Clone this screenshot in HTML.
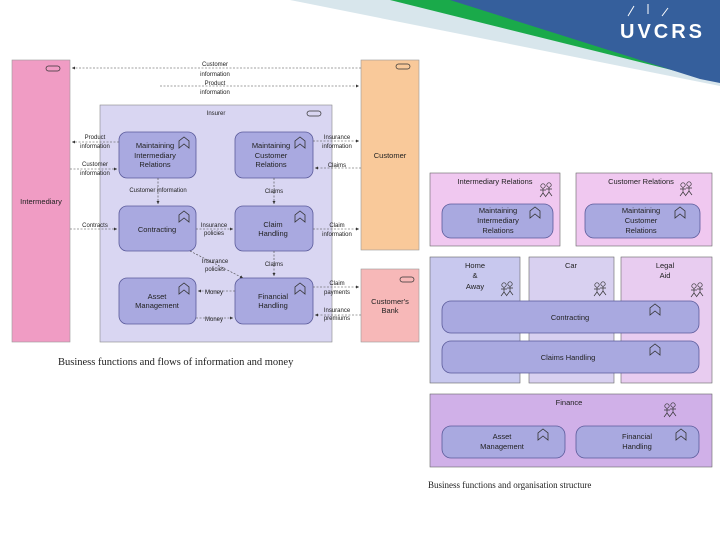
<!DOCTYPE html>
<html><head><style>
html,body{margin:0;padding:0;background:#fff;width:720px;height:540px;overflow:hidden}
svg text{font-family:"Liberation Sans",sans-serif;fill:#222}
.c{text-anchor:middle}
.s{font-size:6px}
.m{font-size:7.5px}
</style></head><body>
<svg width="720" height="540" viewBox="0 0 720 540" xmlns="http://www.w3.org/2000/svg">
<defs>
<marker id="a" markerWidth="6" markerHeight="6" refX="5" refY="3" orient="auto"><path d="M0,0.5 L5,3 L0,5.5z" fill="#333"/></marker>
<g id="fn"><path d="M-5,6 L-5,-1 L0,-5 L5,-1 L5,6 L0,2 Z" fill="none" stroke="#333" stroke-width="0.8"/></g>
<g id="ac" fill="none" stroke="#333" stroke-width="0.7"><circle cx="-3" cy="-6" r="2.2"/><circle cx="3" cy="-7" r="2.2"/><path d="M-3,-4 V1 M-6,-2 H0 M-6,5 L-3,1 L0,5 M3,-5 V0 M0,-3 H6 M0,4 L3,0 L6,4"/></g>
</defs>
<!-- banner -->
<polygon points="290,0 720,0 720,86" fill="#d8e6ec"/>
<polygon points="390,0 720,0 720,82" fill="#1aaa4a"/>
<polygon points="450,0 720,0 720,83 700,79" fill="#355f9c"/>
<path d="M628,16 L634,6 M648,14 L648,4 M662,16 L668,8" stroke="#fff" stroke-width="1"/>
<text x="620" y="38" style="font-size:20px;font-weight:bold;fill:#fff;letter-spacing:3px">UVCRS</text>

<!-- left diagram -->
<rect x="12" y="60" width="58" height="282" fill="#f09cc4" stroke="#999" stroke-width="0.6"/>
<rect x="46" y="66" width="14" height="5" rx="2.5" fill="none" stroke="#333" stroke-width="0.7"/>
<text x="41" y="204" class="m c">Intermediary</text>
<rect x="361" y="60" width="58" height="190" fill="#f9c99a" stroke="#999" stroke-width="0.6"/>
<rect x="396" y="64" width="14" height="5" rx="2.5" fill="none" stroke="#333" stroke-width="0.7"/>
<text x="390" y="158" class="m c">Customer</text>
<rect x="361" y="269" width="58" height="73" fill="#f7b8b8" stroke="#999" stroke-width="0.6"/>
<rect x="400" y="277" width="14" height="5" rx="2.5" fill="none" stroke="#333" stroke-width="0.7"/>
<text x="390" y="304" class="m c">Customer's</text><text x="390" y="313" class="m c">Bank</text>
<rect x="100" y="105" width="232" height="237" fill="#d9d6f2" stroke="#888" stroke-width="0.6"/>
<text x="216" y="115" class="s c">Insurer</text>
<rect x="307" y="111" width="14" height="5" rx="2.5" fill="none" stroke="#333" stroke-width="0.7"/>

<g fill="#a9a9e0" stroke="#5a5a9a" stroke-width="0.8">
<rect x="119" y="132" width="77" height="46" rx="8"/>
<rect x="235" y="132" width="78" height="46" rx="8"/>
<rect x="119" y="206" width="77" height="45" rx="8"/>
<rect x="235" y="206" width="78" height="45" rx="8"/>
<rect x="119" y="278" width="77" height="46" rx="8"/>
<rect x="235" y="278" width="78" height="46" rx="8"/>
</g>
<use href="#fn" x="184" y="142"/><use href="#fn" x="300" y="142"/>
<use href="#fn" x="184" y="216"/><use href="#fn" x="300" y="216"/>
<use href="#fn" x="184" y="288"/><use href="#fn" x="300" y="288"/>
<g class="m">
<text x="155" y="148" class="m c">Maintaining</text><text x="155" y="158" class="m c">Intermediary</text><text x="155" y="167" class="m c">Relations</text>
<text x="271" y="148" class="m c">Maintaining</text><text x="271" y="158" class="m c">Customer</text><text x="271" y="167" class="m c">Relations</text>
<text x="157" y="232" class="m c">Contracting</text>
<text x="273" y="227" class="m c">Claim</text><text x="273" y="236" class="m c">Handling</text>
<text x="157" y="299" class="m c">Asset</text><text x="157" y="308" class="m c">Management</text>
<text x="273" y="299" class="m c">Financial</text><text x="273" y="308" class="m c">Handling</text>
</g>
<g stroke="#444" stroke-width="0.6" stroke-dasharray="2,1.5" fill="none">
<line x1="361" y1="68" x2="72" y2="68" marker-end="url(#a)"/>
<line x1="160" y1="86" x2="359" y2="86" marker-end="url(#a)"/>
<line x1="119" y1="142" x2="72" y2="142" marker-end="url(#a)"/>
<line x1="70" y1="169" x2="117" y2="169" marker-end="url(#a)"/>
<line x1="70" y1="229" x2="117" y2="229" marker-end="url(#a)"/>
<line x1="158" y1="178" x2="158" y2="204" marker-end="url(#a)"/>
<line x1="274" y1="178" x2="274" y2="204" marker-end="url(#a)"/>
<line x1="274" y1="251" x2="274" y2="276" marker-end="url(#a)"/>
<line x1="196" y1="229" x2="233" y2="229" marker-end="url(#a)"/>
<line x1="190" y1="251" x2="243" y2="278" marker-end="url(#a)"/>
<line x1="235" y1="291" x2="198" y2="291" marker-end="url(#a)"/>
<line x1="196" y1="318" x2="233" y2="318" marker-end="url(#a)"/>
<line x1="313" y1="141" x2="359" y2="141" marker-end="url(#a)"/>
<line x1="361" y1="168" x2="315" y2="168" marker-end="url(#a)"/>
<line x1="313" y1="229" x2="359" y2="229" marker-end="url(#a)"/>
<line x1="313" y1="287" x2="359" y2="287" marker-end="url(#a)"/>
<line x1="361" y1="315" x2="315" y2="315" marker-end="url(#a)"/>
</g>
<g class="s">
<text x="215" y="66" class="s c">Customer</text><text x="215" y="76" class="s c">information</text>
<text x="215" y="85" class="s c">Product</text><text x="215" y="94" class="s c">information</text>
<text x="95" y="139" class="s c">Product</text><text x="95" y="148" class="s c">information</text>
<text x="95" y="166" class="s c">Customer</text><text x="95" y="175" class="s c">information</text>
<text x="95" y="227" class="s c">Contracts</text>
<text x="158" y="192" class="s c">Customer information</text>
<text x="274" y="193" class="s c">Claims</text>
<text x="214" y="227" class="s c">Insurance</text><text x="214" y="235" class="s c">policies</text>
<text x="274" y="266" class="s c">Claims</text>
<text x="215" y="263" class="s c">Insurance</text><text x="215" y="271" class="s c">policies</text>
<text x="214" y="294" class="s c">Money</text>
<text x="214" y="321" class="s c">Money</text>
<text x="337" y="139" class="s c">Insurance</text><text x="337" y="148" class="s c">information</text>
<text x="337" y="167" class="s c">Claims</text>
<text x="337" y="227" class="s c">Claim</text><text x="337" y="236" class="s c">information</text>
<text x="337" y="285" class="s c">Claim</text><text x="337" y="294" class="s c">payments</text>
<text x="337" y="312" class="s c">Insurance</text><text x="337" y="320" class="s c">premiums</text>
</g>
<text x="58" y="365" style="font-family:'Liberation Serif',serif;font-size:10.5px">Business functions and flows of information and money</text>

<!-- right diagram -->
<g stroke="#666" stroke-width="0.6">
<rect x="430" y="173" width="130" height="73" fill="#f0c8f0"/>
<rect x="576" y="173" width="136" height="73" fill="#f0c8f0"/>
<rect x="430" y="257" width="90" height="126" fill="#c8c8ee"/>
<rect x="529" y="257" width="85" height="126" fill="#d8d0f0"/>
<rect x="621" y="257" width="91" height="126" fill="#e8ccf0"/>
<rect x="430" y="394" width="282" height="73" fill="#d0b0e8"/>
</g>
<g fill="#a9a9e0" stroke="#5a5a9a" stroke-width="0.8">
<rect x="442" y="204" width="111" height="34" rx="9"/>
<rect x="585" y="204" width="115" height="34" rx="9"/>
<rect x="442" y="301" width="257" height="32" rx="9"/>
<rect x="442" y="341" width="257" height="32" rx="9"/>
<rect x="442" y="426" width="123" height="32" rx="9"/>
<rect x="576" y="426" width="123" height="32" rx="9"/>
</g>
<use href="#fn" x="535" y="212"/><use href="#fn" x="680" y="212"/>
<use href="#fn" x="655" y="309"/><use href="#fn" x="655" y="349"/>
<use href="#fn" x="543" y="434"/><use href="#fn" x="681" y="434"/>
<use href="#ac" x="546" y="192"/><use href="#ac" x="686" y="191"/>
<use href="#ac" x="507" y="291"/><use href="#ac" x="600" y="291"/>
<use href="#ac" x="697" y="292"/><use href="#ac" x="670" y="412"/>
<g>
<text x="495" y="184" class="m c">Intermediary Relations</text>
<text x="641" y="184" class="m c">Customer  Relations</text>
<text x="498" y="213" class="m c">Maintaining</text><text x="498" y="223" class="m c">Intermediary</text><text x="498" y="233" class="m c">Relations</text>
<text x="641" y="213" class="m c">Maintaining</text><text x="641" y="223" class="m c">Customer</text><text x="641" y="233" class="m c">Relations</text>
<text x="475" y="268" class="m c">Home</text><text x="475" y="278" class="m c">&amp;</text><text x="475" y="289" class="m c">Away</text>
<text x="571" y="268" class="m c">Car</text>
<text x="665" y="268" class="m c">Legal</text><text x="665" y="278" class="m c">Aid</text>
<text x="570" y="320" class="m c">Contracting</text>
<text x="568" y="360" class="m c">Claims Handling</text>
<text x="569" y="405" class="m c">Finance</text>
<text x="502" y="439" class="m c">Asset</text><text x="502" y="449" class="m c">Management</text>
<text x="637" y="439" class="m c">Financial</text><text x="637" y="449" class="m c">Handling</text>
</g>
<text x="428" y="488" style="font-family:'Liberation Serif',serif;font-size:9px">Business functions and organisation structure</text>
</svg>
</body></html>
